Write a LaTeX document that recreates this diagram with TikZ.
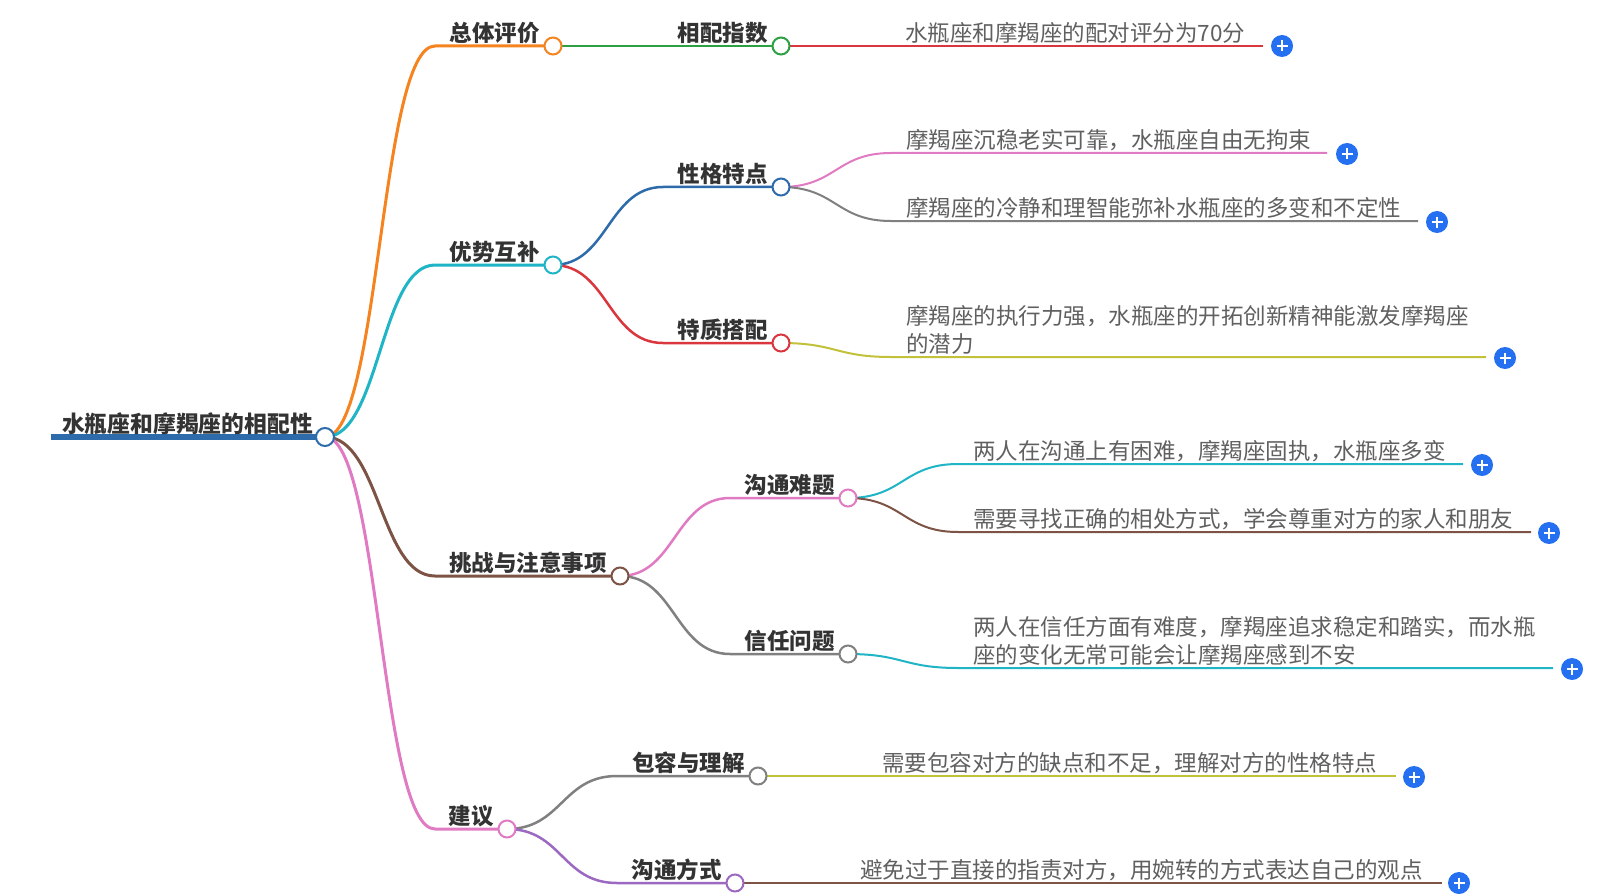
\documentclass[tikz,border=0pt]{standalone}
\usepackage{fontspec}
\newfontfamily\cjk{Noto Sans CJK SC}
\usetikzlibrary{calc,backgrounds}
\definecolor{rootblue}{HTML}{2D6BAA}
\definecolor{corange}{HTML}{F5831F}
\definecolor{cgreen}{HTML}{2DA043}
\definecolor{cred}{HTML}{D9363E}
\definecolor{cteal}{HTML}{1FB5C6}
\definecolor{cpink}{HTML}{E07BC3}
\definecolor{cgray}{HTML}{808080}
\definecolor{colive}{HTML}{C2C13A}
\definecolor{cbrown}{HTML}{7C5344}
\definecolor{cpurple}{HTML}{9B68C2}
\definecolor{plusblue}{HTML}{2470F0}
\definecolor{labcol}{HTML}{333333}
\definecolor{leafcol}{HTML}{606060}
\newcommand{\conn}[3]{\draw[#1] (#2.center) .. controls ($(#2.center)+(55,0)$) and ($(#2.center|-#3.center)+(55,0)$) .. ($(#2.center|-#3.center)+(110,0)$) -- (#3.center);}
\begin{document}
\begin{tikzpicture}[x=1pt,y=-1pt,
  dot/.style={circle, draw=#1, fill=white, line width=2pt, minimum size=17pt, inner sep=0pt},
  lab/.style={font=\cjk\bfseries\fontsize{22.5}{26}\selectfont, text=labcol, inner sep=0pt, anchor=east},
  rootlab/.style={font=\cjk\bfseries\fontsize{22.8}{28}\selectfont, text=labcol, inner sep=0pt, anchor=east},
  leaf/.style={font=\cjk\fontsize{22.5}{28}\selectfont, text=leafcol, inner sep=0pt, anchor=west, align=left},
  addbtn/.style={circle, fill=plusblue, minimum size=22pt, inner sep=0pt,
    path picture={\draw[white, line width=2.2pt] ($(path picture bounding box.center)+(-5.5,0)$) -- ($(path picture bounding box.center)+(5.5,0)$) ($(path picture bounding box.center)+(0,-5.5)$) -- ($(path picture bounding box.center)+(0,5.5)$);}},
  l1/.style={line width=3pt},
  l2/.style={line width=2.5pt},
  l3/.style={line width=2pt}]
\useasboundingbox (0,0) rectangle (1624,896);

% root
\coordinate (rs) at (51,437);
\node[dot=rootblue, minimum size=18pt] (R) at (325,437) {};
\node[rootlab] (Rt) at (313,424) {水瓶座和摩羯座的相配性};

% level 1
\node[dot=corange] (a1) at (553,46) {};
\node[dot=cteal] (a2) at (553,265) {};
\node[dot=cbrown] (a3) at (620,576) {};
\node[dot=cpink] (a4) at (507,829) {};
\node[lab] at (540,33) {总体评价};
\node[lab] at (540,252) {优势互补};
\node[lab] at (607,563) {挑战与注意事项};
\node[lab] at (494,816) {建议};

% level 2
\node[dot=cgreen] (b1) at (781,46) {};
\node[dot=rootblue] (b2) at (781,187) {};
\node[dot=cred] (b3) at (781,343) {};
\node[dot=cpink] (b4) at (848,498) {};
\node[dot=cgray] (b5) at (848,654) {};
\node[dot=cgray] (b6) at (758,776) {};
\node[dot=cpurple] (b7) at (735,883) {};
\node[lab] at (768,33) {相配指数};
\node[lab] at (768,174) {性格特点};
\node[lab] at (768,330) {特质搭配};
\node[lab] at (835,485) {沟通难题};
\node[lab] at (835,641) {信任问题};
\node[lab] at (745,763) {包容与理解};
\node[lab] at (722,870) {沟通方式};

% leaves: line ends
\coordinate (c1) at (1263,46);
\coordinate (c2) at (1327,153);
\coordinate (c3) at (1418,221);
\coordinate (c4) at (1486,357);
\coordinate (c5) at (1463,464);
\coordinate (c6) at (1531,532);
\coordinate (c7) at (1553,668);
\coordinate (c8) at (1396,776);
\coordinate (c9) at (1442,883);

\node[leaf] at (905,33) {水瓶座和摩羯座的配对评分为70分};
\node[leaf] at (906,140) {摩羯座沉稳老实可靠，水瓶座自由无拘束};
\node[leaf] at (906,208) {摩羯座的冷静和理智能弥补水瓶座的多变和不定性};
\node[leaf] at (906,330) {摩羯座的执行力强，水瓶座的开拓创新精神能激发摩羯座\\的潜力};
\node[leaf] at (973,451) {两人在沟通上有困难，摩羯座固执，水瓶座多变};
\node[leaf] at (973,519) {需要寻找正确的相处方式，学会尊重对方的家人和朋友};
\node[leaf] at (973,641) {两人在信任方面有难度，摩羯座追求稳定和踏实，而水瓶\\座的变化无常可能会让摩羯座感到不安};
\node[leaf] at (882,763) {需要包容对方的缺点和不足，理解对方的性格特点};
\node[leaf] at (860,870) {避免过于直接的指责对方，用婉转的方式表达自己的观点};

\node[addbtn] (p1) at (1282,46) {};
\node[addbtn] (p2) at (1347,154) {};
\node[addbtn] (p3) at (1437,222) {};
\node[addbtn] (p4) at (1505,358) {};
\node[addbtn] (p5) at (1482,465) {};
\node[addbtn] (p6) at (1549,533) {};
\node[addbtn] (p7) at (1572,669) {};
\node[addbtn] (p8) at (1414,777) {};
\node[addbtn] (p9) at (1459,883) {};

\begin{pgfonlayer}{background}
\fill[white] (0,0) rectangle (1624,896);
\draw[rootblue, line width=6pt] (rs) -- (R.center);
\conn{l1,corange}{R}{a1}
\conn{l1,cteal}{R}{a2}
\conn{l1,cbrown}{R}{a3}
\conn{l1,cpink}{R}{a4}
\conn{l2,cgreen}{a1}{b1}
\conn{l2,rootblue}{a2}{b2}
\conn{l2,cred}{a2}{b3}
\conn{l2,cpink}{a3}{b4}
\conn{l2,cgray}{a3}{b5}
\conn{l2,cgray}{a4}{b6}
\conn{l2,cpurple}{a4}{b7}
\conn{l3,cred}{b1}{c1}
\conn{l3,cpink}{b2}{c2}
\conn{l3,cgray}{b2}{c3}
\conn{l3,colive}{b3}{c4}
\conn{l3,cteal}{b4}{c5}
\conn{l3,cbrown}{b4}{c6}
\conn{l3,cteal}{b5}{c7}
\conn{l3,colive}{b6}{c8}
\conn{l3,cbrown}{b7}{c9}
\end{pgfonlayer}
\end{tikzpicture}
\end{document}
